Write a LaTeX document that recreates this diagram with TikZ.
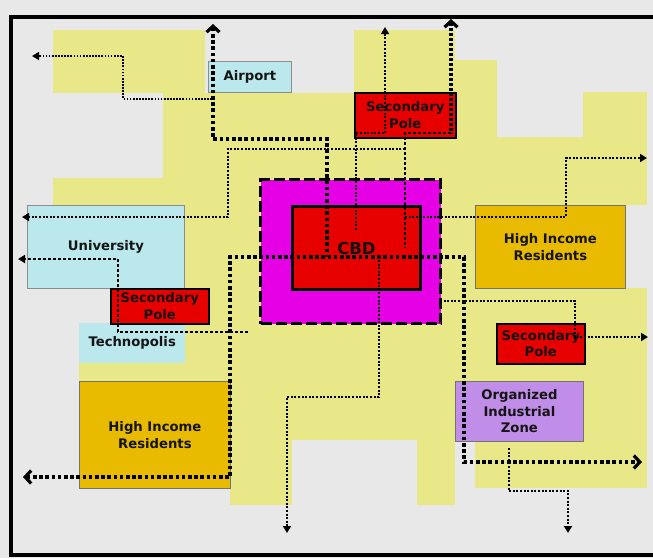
\documentclass[tikz,border=0pt]{standalone}
\usepackage{fontspec}
\setmainfont{DejaVu Sans}
\usetikzlibrary{arrows.meta}
\definecolor{bg}{RGB}{232,232,232}
\definecolor{yel}{RGB}{232,232,136}
\definecolor{cyanbox}{RGB}{186,232,236}
\definecolor{gold}{RGB}{232,186,0}
\definecolor{lav}{RGB}{192,142,232}
\definecolor{polered}{RGB}{230,0,0}
\definecolor{mag}{RGB}{230,0,230}
\definecolor{ink}{RGB}{20,20,20}
\begin{document}
\begin{tikzpicture}[x=1pt,y=-1pt,
  lbl/.style={font=\fontsize{13.2}{16.5}\selectfont\bfseries, text=ink, align=center},
  area/.style={anchor=north west, inner sep=0pt, lbl},
  cyanarea/.style={area, fill=cyanbox, draw=black!45, line width=0.8pt},
  goldarea/.style={area, fill=gold, draw=black!55, line width=0.8pt},
  lavarea/.style={area, fill=lav, draw=black!55, line width=0.8pt},
  polebox/.style={area, fill=polered, draw=black, line width=1.6pt},
  thk/.style={line width=3.6pt, dash pattern=on 3.6pt off 2.6pt, line cap=butt},
  med/.style={line width=2.8pt, dash pattern=on 2.8pt off 2.2pt, line cap=butt},
  thn/.style={line width=2pt, dash pattern=on 2pt off 1.6pt, line cap=butt},
  thinner/.style={line width=1.7pt, dash pattern=on 1.7pt off 1.4pt, line cap=butt},
  tri/.tip={Triangle[length=7pt,width=8pt]},
  chev/.tip={Straight Barb[length=6pt,width=13pt,line width=3.2pt]}
]
\useasboundingbox (0,0) rectangle (653,558);
\clip (0,0) rectangle (653,558);
\fill[bg] (0,0) rectangle (653,558);
% yellow urban area
\fill[yel] (53,30) rectangle (205,93);
\fill[yel] (354,30) rectangle (455,93);
\fill[yel] (455,60) rectangle (497,137);
\fill[yel] (163,93) rectangle (497,137);
\fill[yel] (583,92) rectangle (647,137);
\fill[yel] (163,137) rectangle (647,178);
\fill[yel] (53,178) rectangle (647,205);
\fill[yel] (53,205) rectangle (625,288);
\fill[yel] (110,288) rectangle (647,323);
\fill[yel] (79,323) rectangle (647,440);
\fill[yel] (79,440) rectangle (230,488);
\fill[yel] (230,440) rectangle (292,505);
\fill[yel] (417,440) rectangle (455,505);
\fill[yel] (475,440) rectangle (647,488);
% frame
\draw[line width=3.5pt] (11,17) rectangle (700,555);
% boxes
\node[cyanarea, minimum width=83pt, minimum height=31pt] (airport) at (208,61) {Airport};
\node[polebox, minimum width=101pt, minimum height=45pt] (poleT) at (354,92) {Secondary\\Pole};
\node[area, fill=mag, draw=black, line width=3pt, dash pattern=on 11pt off 4pt, minimum width=180pt, minimum height=144pt] (cbdring) at (259,178) {};
\node[area, fill=polered, draw=black, line width=3pt, minimum width=128pt, minimum height=83pt, font=\fontsize{16.5}{18}\selectfont\bfseries] (cbd) at (291,205) {CBD};
\node[cyanarea, minimum width=157pt, minimum height=83pt] (univ) at (27,205) {University};
\node[area, fill=cyanbox, minimum width=106pt, minimum height=40pt] (techno) at (79,323) {Technopolis};
\node[polebox, minimum width=98pt, minimum height=35pt] (poleL) at (110,288) {Secondary\\Pole};
\node[goldarea, minimum width=150pt, minimum height=83pt] (hiR) at (475,205) {High Income\\Residents};
\node[polebox, minimum width=88pt, minimum height=40pt] (poleR) at (496,323) {Secondary\\Pole};
\node[lavarea, minimum width=128pt, minimum height=60pt] (oiz) at (455,381) {Organized\\Industrial\\Zone};
\node[goldarea, minimum width=151pt, minimum height=107pt] (hiL) at (79,381) {High Income\\Residents};
% coordinates
\coordinate (airUp) at (213,24);
\coordinate (airTurn) at (327,139);
\coordinate (hubW) at (327,257);
\coordinate (hiLout) at (23,477);
\coordinate (hubL) at (230,257);
\coordinate (hubR) at (464,257);
\coordinate (oizOut) at (642,462);
\coordinate (pTup) at (451,19);
\coordinate (pTa) at (451,133);
\coordinate (pTb) at (405,133);
\coordinate (pTc) at (405,248);
\coordinate (pTup2) at (385,27);
\coordinate (pTd) at (356,133);
\coordinate (pTe) at (356,230);
\coordinate (univA) at (405,149);
\coordinate (univB) at (228,217);
\coordinate (univOut) at (22,217);
\coordinate (plA) at (248,332);
\coordinate (plB) at (118,332);
\coordinate (plOut) at (18,259);
\coordinate (tlA) at (212,99);
\coordinate (tlB) at (123,99);
\coordinate (tlOut) at (32,56);
\coordinate (hrA) at (405,217);
\coordinate (hrOut) at (647,158);
\coordinate (prA) at (440,301);
\coordinate (prOut) at (648,337);
\coordinate (cbA) at (379,260);
\coordinate (cbB) at (379,397);
\coordinate (cbOut) at (287,533);
\coordinate (ozA) at (509,448);
\coordinate (ozB) at (509,491);
\coordinate (ozOut) at (568,533);
% connectors
\draw[thk, chev-] (airUp) |- (airTurn) -- (hubW);
\draw[thk, chev-chev] (hiLout) -| (hubL) -- (hubR) |- (oizOut);
\draw[med, line width=3.2pt, chev-] (pTup) -- (pTa);
\draw[med] (pTa) -- (pTb) -- (pTc);
\draw[thn, tri-] (pTup2) |- (pTd) -- (pTe);
\draw[thn, -tri] (univA) -| (univB) -- (univOut);
\draw[med, -tri] (plA) -- (plB) |- (plOut);
\draw[thinner, -tri] (tlA) -- (tlB) |- (tlOut);
\draw[thn, -tri] (hrA) -| (566,158) -- (hrOut);
\draw[thn, -tri] (prA) -| (575,337) -- (prOut);
\draw[thn, -tri] (cbA) -- (cbB) -| (cbOut);
\draw[thn, -tri] (ozA) -- (ozB) -| (ozOut);
\end{tikzpicture}
\end{document}
